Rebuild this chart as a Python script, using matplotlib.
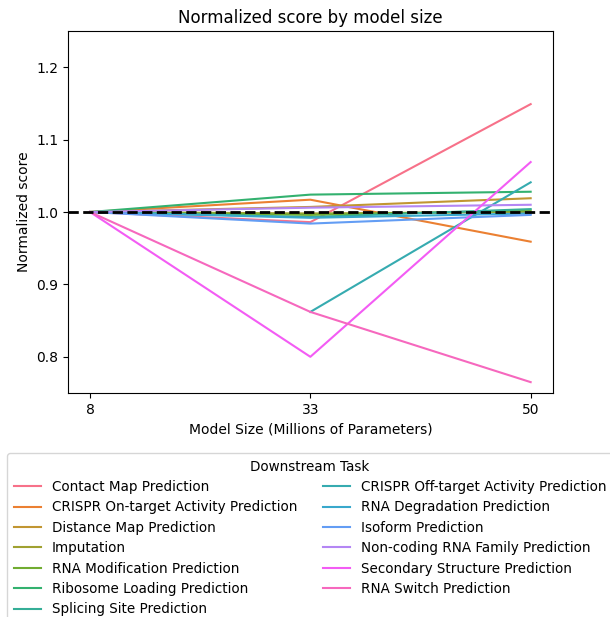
import matplotlib
matplotlib.use("Agg")
import matplotlib.pyplot as plt
import seaborn as sns
import numpy as np

model_sizes = ["8", "33", "50"]
tasks = [
    "Contact Map Prediction",
    "CRISPR On-target Activity Prediction",
    "Distance Map Prediction",
    "Imputation",
    "RNA Modification Prediction",
    "Ribosome Loading Prediction",
    "Splicing Site Prediction",
    "CRISPR Off-target Activity Prediction",
    "RNA Degradation Prediction",
    "Isoform Prediction",
    "Non-coding RNA Family Prediction",
    "Secondary Structure Prediction",
    "RNA Switch Prediction",
]
contact_map = [1.0, 0.986, 1.149]
crispr_on = [1.0, 1.017, 0.959]
distance_map = [1.0, 1.007, 1.019]
imputation = [1.0, 0.998, 1.000]
rna_modification = [1.0, 0.996, 1.002]
ribosome_loading = [1.0, 1.024, 1.028]
splicing_site = [1.0, 0.993, 1.004]
crispr_off = [np.nan, 0.862, 1.041]
rna_degradation = [1.0, 0.992, 0.998]
isoform = [1.0, 0.984, 0.996]
noncoding_family = [1.0, 1.006, 1.010]
secondary_structure = [1.0, 0.800, 1.069]
rna_switch = [1.0, 0.862, 0.765]

series = [contact_map, crispr_on, distance_map, imputation, rna_modification,
          ribosome_loading, splicing_site, crispr_off, rna_degradation, isoform,
          noncoding_family, secondary_structure, rna_switch]

colors = sns.color_palette("husl", len(tasks))

fig = plt.figure(figsize=(6.10, 6.17), dpi=100)
ax = fig.add_axes([68/610, 1-393/617, (552.7-68)/610, (393-31)/617])

x = np.arange(len(model_sizes))
for name, vals, c in zip(tasks, series, colors):
    ax.plot(x, vals, color=c, lw=1.5, label=name)

ax.axhline(1.0, color="black", ls="--", lw=2)
ax.set_xticks(x)
ax.set_xticklabels(model_sizes)
ax.set_xlim(-0.1, 2.1)
ax.set_ylim(0.75, 1.25)
ax.set_yticks([0.8, 0.9, 1.0, 1.1, 1.2])
ax.set_title("Normalized score by model size", fontsize=12)
ax.set_xlabel("Model Size (Millions of Parameters)", fontsize=10)
ax.set_ylabel("Normalized score", fontsize=10)
ax.tick_params(labelsize=10)

fig.legend(loc="upper left", bbox_to_anchor=(7/610, 1-453/617), ncol=2,
           title="Downstream Task", fontsize=9.75, title_fontsize=9.75,
           borderaxespad=0, frameon=True, columnspacing=1.9,
           labelspacing=0.47, borderpad=0.5)

fig.savefig("out.png", dpi=100)
